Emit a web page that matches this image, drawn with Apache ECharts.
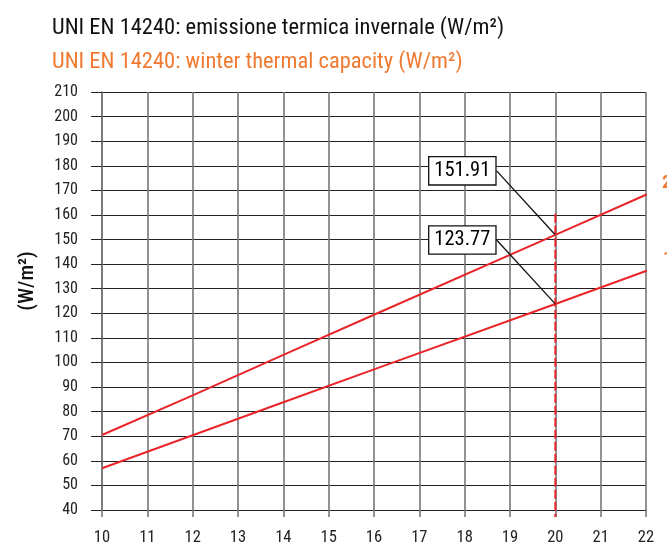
<!DOCTYPE html>
<html>
<head>
<meta charset="utf-8">
<script src="https://cdn.jsdelivr.net/npm/echarts@6/dist/echarts.min.js"></script>
<style>
html,body{margin:0;padding:0;background:#fff;}
#chart{width:667px;height:546px;}
</style>
</head>
<body>
<div id="chart"></div>
<script>
// ---- data ----
const titleIt = 'UNI EN 14240: emissione termica invernale (W/m²)';
const titleEn = 'UNI EN 14240: winter thermal capacity (W/m²)';
const yAxisName = '(W/m²)';
const xTicks = [10, 11, 12, 13, 14, 15, 16, 17, 18, 19, 20, 21, 22];
const yTicks = [40, 210, 10]; // min, max, step
const curve2 = [[10, 70.5], [12, 86.6], [14, 103.1], [16, 119.4], [20, 151.91], [22, 168.2], [22.5, 168.2]];
const curve1 = [[10, 57.0], [12, 70.4], [14, 83.8], [16, 97.2], [20, 123.77], [22, 137.2], [22.5, 137.2]];
const curveNames = ['2', '1'];
const refLine = [[20, 160.5], [20, 37.2]];
const annotations = [[20, 151.91], [20, 123.77]];

const FONT = "'Roboto Condensed', 'Liberation Sans Narrow', Roboto, sans-serif";
const RED = '#e8262a';
const ORANGE = '#f07a30';

const chart = echarts.init(document.getElementById('chart'), null, {renderer: 'canvas'});
chart.setOption({
  backgroundColor: '#fff',
  animation: false,
  title: [
    {text: titleIt, left: 47, top: 12, textStyle: {fontFamily: FONT, fontSize: 22.5, fontWeight: 'normal', color: '#111'}},
    {text: titleEn, left: 47, top: 46, textStyle: {fontFamily: FONT, fontSize: 22.5, fontWeight: 'normal', color: ORANGE}}
  ],
  grid: {left: 102, right: 21, top: 92, bottom: 35, containLabel: false},
  xAxis: {
    type: 'value', min: xTicks[0], max: xTicks[xTicks.length - 1], interval: 1,
    axisLine: {show: true, onZero: false, lineStyle: {color: '#222', width: 1}},
    axisTick: {show: true, length: 7, lineStyle: {color: '#777', width: 1.6}},
    axisLabel: {margin: 19, fontFamily: FONT, fontSize: 16.5, color: '#222'},
    splitLine: {show: true, lineStyle: {color: '#777', width: 1.6}}
  },
  yAxis: {
    type: 'value', min: yTicks[0], max: yTicks[1], interval: yTicks[2],
    name: yAxisName, nameLocation: 'middle', nameRotate: 90, nameGap: 64,
    nameTextStyle: {fontFamily: FONT, fontSize: 21, fontWeight: 500, color: '#111', padding: [0, 0, 0, 40]},
    axisLine: {show: true, onZero: false, lineStyle: {color: '#777', width: 1.6}},
    axisTick: {show: true, length: 11, lineStyle: {color: '#222', width: 1}},
    axisLabel: {margin: 24, fontFamily: FONT, fontSize: 16, color: '#222'},
    splitLine: {show: true, lineStyle: {color: '#222', width: 1}}
  },
  series: [
    {
      type: 'line', data: curve2, clip: false, symbol: 'none', z: 5,
      lineStyle: {color: RED, width: 2},
      endLabel: {show: true, formatter: curveNames[0], offset: [7, -12], fontFamily: FONT, fontSize: 19, fontWeight: 'bold', color: ORANGE}
    },
    {
      type: 'line', data: curve1, clip: false, symbol: 'none', z: 5,
      lineStyle: {color: RED, width: 2},
      endLabel: {show: true, formatter: curveNames[1], offset: [8, -12], fontFamily: FONT, fontSize: 19, fontWeight: 'bold', color: ORANGE}
    },
    {
      type: 'line', data: refLine, clip: false, symbol: 'none', z: 4,
      lineStyle: {color: RED, width: 2, type: [9, 3]}
    },
    {
      type: 'scatter', data: annotations, symbolSize: 1, z: 6,
      itemStyle: {color: 'rgba(0,0,0,0)'},
      label: {
        show: true, position: 'inside',
        formatter: p => p.value[1].toFixed(2),
        fontFamily: FONT, fontSize: 20.5, color: '#000', opacity: 1,
        backgroundColor: '#fff', borderColor: '#111', borderWidth: 1.3,
        padding: [4, 5, 2, 5]
      },
      labelLayout: {dx: -93, dy: -64},
      labelLine: {show: true, length2: 0, lineStyle: {color: '#111', width: 1.3}}
    }
  ]
});
</script>
</body>
</html>
